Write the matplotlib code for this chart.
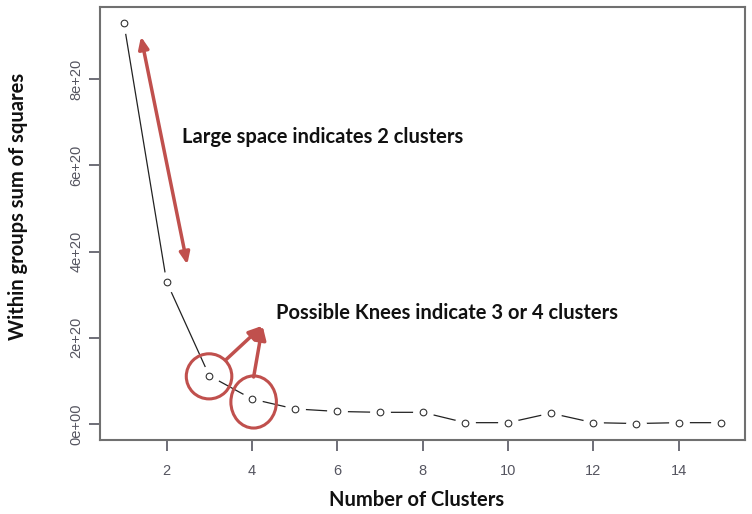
import matplotlib.pyplot as plt
from matplotlib.patches import Ellipse

# within-cluster sum of squares for k = 1..15
clusters = list(range(1, 16))
wss = [9.30e20, 3.30e20, 1.12e20, 0.58e20, 0.35e20, 0.29e20, 0.27e20, 0.27e20,
       0.03e20, 0.03e20, 0.25e20, 0.03e20, 0.01e20, 0.03e20, 0.03e20]
xticks = [2, 4, 6, 8, 10, 12, 14]
yticks = [0, 2e20, 4e20, 6e20, 8e20]
ytick_labels = ['0e+00', '2e+20', '4e+20', '6e+20', '8e+20']

red = '#c0504d'
grey = '#555560'
bold = dict(fontsize=14.5, fontweight='bold', family='Lato', color='#111111')

fig = plt.figure(figsize=(7.52, 5.14), dpi=100)
ax = fig.add_axes([0.133, 0.144, 0.858, 0.842])

# R style type="b": line with gaps around the points
ax.plot(clusters, wss, color='#222222', lw=0.9, zorder=2)
ax.plot(clusters, wss, ls='none', marker='o', ms=15, mfc='white', mec='none', zorder=3)
ax.plot(clusters, wss, ls='none', marker='o', ms=4.8, mfc='white', mec='#333333',
        mew=0.8, zorder=4)

ax.set_xlim(0.44, 15.56)
ax.set_ylim(-0.372e20, 9.672e20)
ax.set_xticks(xticks)
ax.set_xticklabels([str(t) for t in xticks])
ax.set_yticks(yticks)
ax.set_yticklabels(ytick_labels, rotation=90, va='center')
ax.tick_params(direction='out', length=8, width=1.2, color=grey, labelcolor=grey,
               labelsize=10.5)
ax.tick_params(axis='x', pad=9)
ax.tick_params(axis='y', pad=4)
for lab in ax.get_xticklabels() + ax.get_yticklabels():
    lab.set_family('Liberation Sans')
for s in ax.spines.values():
    s.set_color('#707070')
    s.set_linewidth(1.5)

ax.set_xlabel('Number of Clusters', **bold)
ax.set_ylabel('Within groups sum of squares', **bold)
ax.xaxis.set_label_coords(0.49, -0.115)
ax.yaxis.set_label_coords(-0.112, 0.54)

# double arrow showing the big drop
ax.annotate('', xy=(1.40, 8.99e20), xytext=(2.485, 3.70e20),
            arrowprops=dict(arrowstyle='<|-|>,head_length=0.7,head_width=0.3',
                            color=red, lw=2.5, shrinkA=0, shrinkB=0), zorder=6)
ax.text(2.35, 6.67e20, 'Large space indicates 2 clusters', va='center', **bold)

# circles around the knee candidates
ax.add_patch(Ellipse((2.995, 1.105e20), 1.067, 1.047e20, fill=False, ec=red, lw=2.2, zorder=6))
ax.add_patch(Ellipse((4.04, 0.51e20), 1.067, 1.21e20, fill=False, ec=red, lw=2.2, zorder=6))
for start in [(3.39, 1.49e20), (4.04, 1.09e20)]:
    ax.annotate('', xy=(4.25, 2.28e20), xytext=start,
                arrowprops=dict(arrowstyle='-|>,head_length=0.8,head_width=0.35',
                                color=red, lw=2.5, shrinkA=0, shrinkB=0), zorder=6)
ax.text(4.57, 2.58e20, 'Possible Knees indicate 3 or 4 clusters', va='center', **bold)

fig.savefig('out.png', dpi=100)
